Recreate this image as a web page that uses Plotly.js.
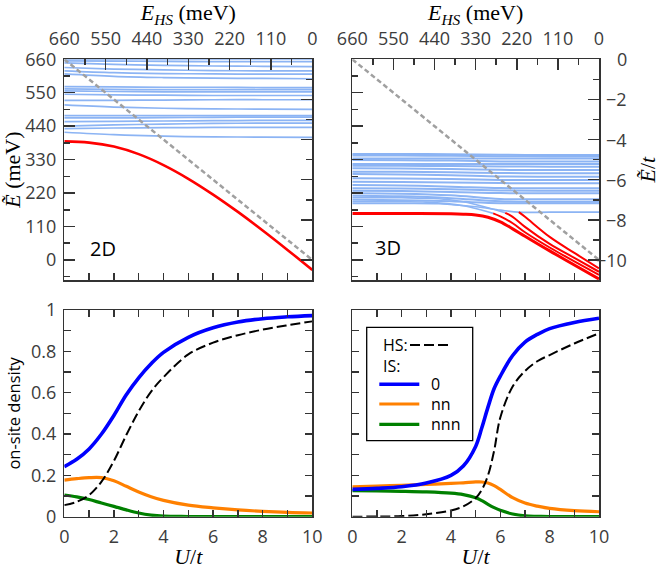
<!DOCTYPE html>
<html><head><meta charset="utf-8">
<script src="https://cdn.plot.ly/plotly-3.0.1.min.js"></script>
<style>html,body{margin:0;padding:0;background:#fff}</style>
</head><body><div id="chart" style="width:665px;height:571px"></div>
<script>
// ---------------- DATA ----------------
const U_HS = [0, 10];
const E_HS_meV = [660, 0];
const E_HS_t = [0, -10];

// 2D: excited levels (meV) sampled at these U/t
const U_levels2D = [0, 2, 4, 6, 8, 10];
const levels2D = [
  [660, 660, 660, 660, 660, 660],
  [655, 654, 653, 652, 652, 652],
  [648, 643, 640, 638, 637, 636],
  [633, 628, 625, 623, 622, 622],
  [622, 616, 613, 612, 611, 611],
  [612, 604, 600, 598, 597, 596],
  [570, 569, 568, 568, 567, 567],
  [563, 561, 560, 560, 560, 560],
  [556, 554, 553, 553, 553, 553],
  [545, 543, 542, 541, 541, 541],
  [525, 525, 526, 527, 527, 527],
  [510, 503, 499, 497, 496, 495],
  [475, 475, 475, 475, 475, 475],
  [467, 467, 468, 469, 470, 470],
  [455, 456, 457, 458, 459, 459],
  [440, 444, 447, 449, 450, 450],
  [432, 434, 435, 436, 436, 436],
  [420, 412, 407, 405, 404, 403]
];
// 2D ground (IS) level, meV
const U_red2D = [0, 1, 2, 3, 4, 5, 6, 7, 8, 9, 10];
const E_red2D = [390, 386, 373, 348, 312, 267, 215, 158, 97, 33, -33];

// 3D: excited levels (units of t)
const U_levels3D = [0, 2, 4, 6, 8, 10];
const levels3D = [
  [-4.72, -4.72, -4.73, -4.76, -4.77, -4.77],
  [-4.80, -4.80, -4.81, -4.83, -4.84, -4.84],
  [-4.94, -4.94, -4.94, -4.95, -4.95, -4.95],
  [-5.02, -5.03, -5.05, -5.09, -5.10, -5.10],
  [-5.22, -5.22, -5.22, -5.22, -5.22, -5.22],
  [-5.30, -5.31, -5.32, -5.34, -5.35, -5.35],
  [-5.43, -5.44, -5.47, -5.51, -5.52, -5.52],
  [-5.60, -5.61, -5.63, -5.67, -5.68, -5.68],
  [-5.72, -5.74, -5.78, -5.84, -5.85, -5.85],
  [-5.93, -5.94, -5.97, -6.01, -6.02, -6.02],
  [-6.10, -6.11, -6.14, -6.17, -6.18, -6.18],
  [-6.27, -6.29, -6.35, -6.42, -6.43, -6.43],
  [-6.43, -6.44, -6.48, -6.54, -6.55, -6.55],
  [-6.55, -6.57, -6.61, -6.67, -6.68, -6.68],
  [-6.68, -6.70, -6.78, -6.96, -6.98, -6.98],
  [-6.80, -6.83, -6.92, -7.08, -7.10, -7.10],
  [-7.00, -7.02, -7.08, -7.17, -7.18, -7.18]
];
// 3D levels that bend down towards the ground branch
const U_blueBend1 = [0, 2, 3.5, 5, 6, 6.75, 8, 10];
const E_blueBend1 = [-7.18, -7.18, -7.20, -7.35, -7.52, -7.62, -7.62, -7.62];
const U_blueBend2 = [0, 2, 3, 4.5, 5.2, 5.71];
const E_blueBend2 = [-7.10, -7.10, -7.12, -7.30, -7.50, -7.68];
const U_blueBend3 = [0, 2, 3.5, 4.5, 5.5, 6.2];
const E_blueBend3 = [-6.90, -6.90, -6.95, -7.10, -7.40, -7.65];
// 3D IS branches (red)
const U_red3D_a = [0, 2, 4, 4.5, 5, 5.5, 6, 6.5, 7, 8, 9, 10];
const E_red3D_a = [-7.68, -7.68, -7.70, -7.72, -7.76, -7.87, -8.10, -8.45, -8.82, -9.55, -10.25, -10.95];
const U_red3D_b = [5.71, 6, 6.5, 7, 8, 9, 10];
const E_red3D_b = [-7.68, -7.83, -8.17, -8.62, -9.38, -10.07, -10.75];
const U_red3D_c = [6.2, 6.5, 7, 8, 9, 10];
const E_red3D_c = [-7.65, -7.85, -8.35, -9.20, -9.90, -10.59];
const U_red3D_d = [6.75, 7, 8, 9, 10];
const E_red3D_d = [-7.62, -7.85, -8.85, -9.65, -10.42];

// Bottom row: on-site density vs U/t
const U_dens2D = [0, 0.5, 1, 1.5, 2, 2.5, 3, 3.5, 4, 5, 6, 7, 8, 9, 10];
const HS_2D  = [0.056, 0.072, 0.105, 0.17, 0.27, 0.395, 0.51, 0.605, 0.675, 0.785, 0.842, 0.878, 0.905, 0.926, 0.945];
const IS0_2D = [0.242, 0.278, 0.328, 0.40, 0.49, 0.59, 0.672, 0.74, 0.795, 0.868, 0.914, 0.942, 0.958, 0.967, 0.973];
const nn_2D  = [0.177, 0.184, 0.189, 0.189, 0.174, 0.147, 0.12, 0.097, 0.079, 0.056, 0.043, 0.033, 0.026, 0.021, 0.018];
const nnn_2D = [0.105, 0.096, 0.083, 0.066, 0.05, 0.033, 0.018, 0.008, 0.003, 0.001, 0, 0, 0, 0, 0];

const U_dens3D = [0, 1, 2, 3, 4, 4.5, 5, 5.25, 5.5, 5.75, 6, 6.5, 7, 7.5, 8, 9, 10];
const HS_3D  = [0, 0.001, 0.003, 0.012, 0.03, 0.05, 0.09, 0.13, 0.2, 0.32, 0.48, 0.63, 0.705, 0.752, 0.782, 0.838, 0.887];
const IS0_3D = [0.132, 0.137, 0.145, 0.163, 0.2, 0.245, 0.34, 0.43, 0.53, 0.62, 0.68, 0.78, 0.845, 0.882, 0.91, 0.94, 0.96];
const nn_3D  = [0.145, 0.148, 0.152, 0.156, 0.161, 0.164, 0.168, 0.168, 0.163, 0.15, 0.132, 0.092, 0.066, 0.051, 0.04, 0.029, 0.024];
const nnn_3D = [0.126, 0.125, 0.123, 0.12, 0.114, 0.107, 0.092, 0.078, 0.06, 0.044, 0.031, 0.013, 0.004, 0.002, 0.001, 0, 0];

// Tick labels
const ehsTicks = [660, 550, 440, 330, 220, 110, 0];
const tTickVals = [-10, -8, -6, -4, -2, 0];
const tTickText = ['\u221210', '\u22128', '\u22126', '\u22124', '\u22122', '0'];

// ---------------- STYLE / LAYOUT ----------------
const W = 665, H = 571, ML = 64, MR = 66, MT = 59, MB = 54;
const PW = W - ML - MR, PH = H - MT - MB;
const PX = x => (x - ML) / PW;
const PY = y => (H - MB - y) / PH;

const LBLUE = '#8cb4f4', RED = '#ff0000', GRAY = '#a0a0a0';
const tickFont = {family: 'Open Sans', size: 18, color: '#3c3c3c'};
const serif = {family: 'Liberation Serif', size: 22, color: '#000'};
const ETILDE = '<i>E\u0303</i>';

const traces = [];
function line(x, y, xa, ya, color, width, dash, shape) {
  traces.push({x: x, y: y, xaxis: xa, yaxis: ya, mode: 'lines', hoverinfo: 'skip',
    line: {color: color, width: width, dash: dash || 'solid', shape: shape || 'spline'}, showlegend: false});
}
// helper (empty) traces so the secondary axes get drawn
function axisHolder(xa, ya) {
  traces.push({x: [], y: [], xaxis: xa, yaxis: ya, mode: 'lines', hoverinfo: 'skip', showlegend: false});
}
axisHolder('x2', 'y'); axisHolder('x', 'y2'); axisHolder('x4', 'y4'); axisHolder('x3', 'y3');

// top-left 2D
levels2D.forEach(r => line(U_levels2D, r, 'x', 'y', LBLUE, 1.7));
line(U_HS, E_HS_meV, 'x', 'y', GRAY, 2.5, '5px,3px', 'linear');
line(U_red2D, E_red2D, 'x', 'y', RED, 2.6);
// top-right 3D
levels3D.forEach(r => line(U_levels3D, r, 'x3', 'y4', LBLUE, 2));
line(U_blueBend1, E_blueBend1, 'x3', 'y4', LBLUE, 1.7);
line(U_blueBend2, E_blueBend2, 'x3', 'y4', LBLUE, 1.7);
line(U_blueBend3, E_blueBend3, 'x3', 'y4', LBLUE, 1.7);
line(U_HS, E_HS_t, 'x3', 'y4', GRAY, 2.5, '5px,3px', 'linear');
line(U_red3D_a, E_red3D_a, 'x3', 'y4', RED, 3);
line(U_red3D_b, E_red3D_b, 'x3', 'y4', RED, 2);
line(U_red3D_c, E_red3D_c, 'x3', 'y4', RED, 2);
line(U_red3D_d, E_red3D_d, 'x3', 'y4', RED, 2);
// bottom-left
line(U_dens2D, nnn_2D, 'x5', 'y5', '#008000', 3.2);
line(U_dens2D, nn_2D, 'x5', 'y5', '#ff8000', 3.2);
line(U_dens2D, HS_2D, 'x5', 'y5', '#000000', 2, '10px,4px');
line(U_dens2D, IS0_2D, 'x5', 'y5', '#0000ff', 3.6);
// bottom-right
line(U_dens3D, nnn_3D, 'x6', 'y6', '#008000', 3.2);
line(U_dens3D, nn_3D, 'x6', 'y6', '#ff8000', 3.2);
line(U_dens3D, HS_3D, 'x6', 'y6', '#000000', 2, '10px,4px');
line(U_dens3D, IS0_3D, 'x6', 'y6', '#0000ff', 3.6);

const XL = [PX(64.3), PX(312.3)], XR = [PX(352.3), PX(599.3)];
const YT = [PY(280), PY(59.3)], YB = [PY(516.7), PY(310)];

const base = {showline: true, linecolor: '#333', linewidth: 1.5, ticks: 'inside', tickcolor: '#333',
  tickwidth: 1.5, showgrid: false, zeroline: false, tickfont: tickFont, automargin: false, fixedrange: true};
const ax = o => Object.assign({}, base, o);
const minorT = (d, len) => ({dtick: d, tick0: 0, ticklen: len, ticks: 'inside', tickcolor: '#333', tickwidth: 1.5});

const ehsTop = {side: 'top', range: [660, 0], tickmode: 'array', tickvals: ehsTicks, ticklen: 11,
  minor: minorT(55, 6), ticklabelstandoff: 6,
  title: {text: '<i>E</i><sub><i>HS</i></sub> (meV)', font: serif, standoff: 4}};
const meVax = {range: [-66, 660], dtick: 110, tick0: 0, ticklen: 11, minor: minorT(55, 6)};
const tax = {range: [-11, 0], tickmode: 'array', tickvals: tTickVals, ticktext: tTickText, ticklen: 11,
  minor: minorT(1, 6)};
const Uaxtop = {range: [0, 10], dtick: 1, tick0: 0, ticklen: 7, showticklabels: false};
const Uax = {range: [0, 10], dtick: 2, tick0: 0, ticklen: 7, minor: minorT(1, 7)};
const densAx = {range: [0, 1], dtick: 0.2, tick0: 0, ticklen: 7, minor: minorT(0.1, 7)};

const layout = {
  width: W, height: H, margin: {l: ML, r: MR, t: MT, b: MB},
  paper_bgcolor: '#fff', plot_bgcolor: '#fff', showlegend: false,
  xaxis: ax(Object.assign({}, Uaxtop, {domain: XL, anchor: 'y'})),
  xaxis2: ax(Object.assign({}, ehsTop, {overlaying: 'x', anchor: 'y'})),
  yaxis: ax(Object.assign({}, meVax, {domain: YT, anchor: 'x', ticklabelstandoff: 3,
    title: {text: ETILDE + ' (meV)', font: serif, standoff: 4}})),
  yaxis2: ax(Object.assign({}, tax, {overlaying: 'y', side: 'right', anchor: 'x', showticklabels: false})),
  xaxis3: ax(Object.assign({}, Uaxtop, {domain: XR, anchor: 'y4'})),
  xaxis4: ax(Object.assign({}, ehsTop, {overlaying: 'x3', anchor: 'y4'})),
  // right-axis labels are right-aligned in the reference: drawn below as annotations at the tick values
  yaxis4: ax(Object.assign({}, tax, {domain: YT, anchor: 'x3', side: 'right', showticklabels: false,
    title: {text: ETILDE + '/<i>t</i>', font: serif, standoff: 40}})),
  yaxis3: ax(Object.assign({}, meVax, {overlaying: 'y4', side: 'left', anchor: 'x3', showticklabels: false})),
  xaxis5: ax(Object.assign({}, Uax, {domain: XL, anchor: 'y5', mirror: 'ticks', ticklabelstandoff: 3,
    title: {text: '<i>U</i>/<i>t</i>', font: serif, standoff: 2}})),
  yaxis5: ax(Object.assign({}, densAx, {domain: YB, anchor: 'x5', mirror: 'ticks', ticklabelstandoff: 3,
    title: {text: 'on-site density', font: {family: 'Open Sans', size: 16.5, color: '#000'}, standoff: 6}})),
  xaxis6: ax(Object.assign({}, Uax, {domain: XR, anchor: 'y6', mirror: 'ticks', ticklabelstandoff: 3,
    title: {text: '<i>U</i>/<i>t</i>', font: serif, standoff: 2}})),
  yaxis6: ax(Object.assign({}, densAx, {domain: YB, anchor: 'x6', mirror: 'ticks', showticklabels: false})),
  shapes: [], annotations: []
};

// right-aligned tick labels of the Ẽ/t axis
tTickVals.forEach((v, i) => layout.annotations.push({xref: 'paper', yref: 'y4', x: PX(629), y: v,
  text: tTickText[i], showarrow: false, xanchor: 'right', yanchor: 'middle', font: tickFont}));

// panel labels
const labFont = {family: 'Open Sans', size: 20, color: '#000'};
layout.annotations.push({xref: 'paper', yref: 'paper', x: PX(102.5), y: PY(248.5), text: '2D', showarrow: false,
  xanchor: 'center', yanchor: 'middle', font: labFont});
layout.annotations.push({xref: 'paper', yref: 'paper', x: PX(388), y: PY(247.5), text: '3D', showarrow: false,
  xanchor: 'center', yanchor: 'middle', font: labFont});

// manual legend (bottom-right panel)
const legFont = {family: 'Open Sans', size: 16, color: '#000'};
layout.shapes.push({type: 'rect', xref: 'paper', yref: 'paper', x0: PX(366.7), x1: PX(472.7), y0: PY(440.7), y1: PY(327.3),
  line: {color: '#000', width: 1.3}, fillcolor: '#fff', layer: 'above'});
function legText(x, y, t) {
  layout.annotations.push({xref: 'paper', yref: 'paper', x: PX(x), y: PY(y), text: t, showarrow: false,
    xanchor: 'left', yanchor: 'middle', font: legFont});
}
function legLine(x0, x1, y, color, width, dash) {
  layout.shapes.push({type: 'line', xref: 'paper', yref: 'paper', x0: PX(x0), x1: PX(x1), y0: PY(y), y1: PY(y),
    line: {color: color, width: width, dash: dash || 'solid'}, layer: 'above'});
}
legText(380.5, 345, 'HS:');
legLine(410, 449.3, 345, '#000', 2, '10px,4px');
legText(380.5, 366, 'IS:');
legLine(379.3, 419.3, 384.3, '#0000ff', 3.6);
legText(429, 384.3, '0');
legLine(379.3, 419.3, 404, '#ff8000', 3.2);
legText(429, 404, 'nn');
legLine(379.3, 419.3, 424.3, '#008000', 3.2);
legText(429, 424.3, 'nnn');

Plotly.newPlot('chart', traces, layout, {staticPlot: true, displayModeBar: false});
</script></body></html>
